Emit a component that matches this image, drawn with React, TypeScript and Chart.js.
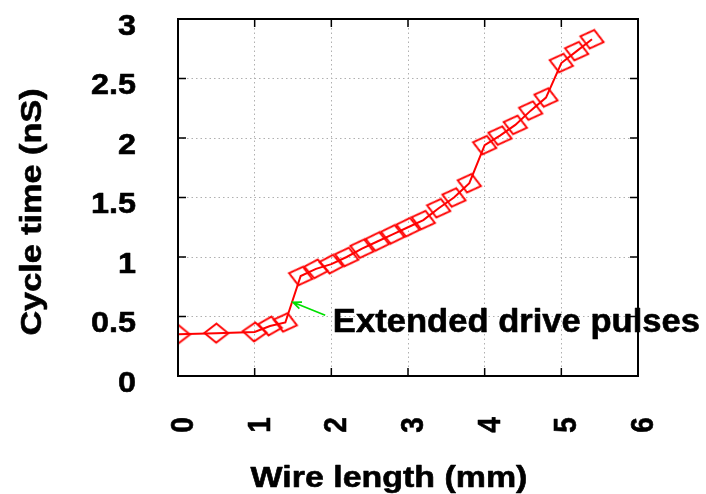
import React, { useEffect, useRef } from 'react';
import { Chart, registerables } from 'chart.js';

Chart.register(...registerables);

// ---- data ----
const wireLength = [0, 0.5, 1.0, 1.2, 1.4, 1.6, 1.8, 2.0, 2.2, 2.4, 2.6, 2.8, 3.0, 3.2, 3.4, 3.6, 3.8, 4.0, 4.2, 4.4, 4.6, 4.8, 5.0, 5.2, 5.4];
const cycleTime = [0.35, 0.36, 0.37, 0.42, 0.45, 0.84, 0.9, 0.94, 1.0, 1.07, 1.13, 1.19, 1.25, 1.31, 1.41, 1.5, 1.62, 1.94, 2.02, 2.11, 2.23, 2.34, 2.63, 2.73, 2.83];

const xTicks = [0, 1, 2, 3, 4, 5, 6];
const xTickLabels = ['0', '1', '2', '3', '4', '5', '6'];
const yTicks = [0, 0.5, 1, 1.5, 2, 2.5, 3];
const yTickLabels = ['0', '0.5', '1', '1.5', '2', '2.5', '3'];

const xTitle = 'Wire length (mm)';
const yTitle = 'Cycle time (nS)';

const annotationText = 'Extended drive pulses';
const annotationTextPos = [2.02, 0.37];
const arrowTail = [1.92, 0.51];
const arrowTip = [1.5, 0.62];

const FONT = '"Liberation Sans", Arial, Helvetica, sans-serif';

function drawText(
  ctx: CanvasRenderingContext2D,
  text: string,
  x: number,
  y: number,
  font: string,
  rot: number,
  sx: number,
  align: CanvasTextAlign,
  baseline: CanvasTextBaseline
) {
  ctx.save();
  ctx.translate(x, y);
  ctx.rotate(rot);
  ctx.scale(sx, 1);
  ctx.font = font;
  ctx.fillStyle = '#000';
  ctx.strokeStyle = '#000';
  ctx.lineWidth = 0.6;
  ctx.lineJoin = 'round';
  ctx.textAlign = align;
  ctx.textBaseline = baseline;
  ctx.fillText(text, 0, 0);
  ctx.strokeText(text, 0, 0);
  ctx.restore();
}

const decorPlugin = {
  id: 'decor',
  afterDraw(chart: any) {
    const ctx: CanvasRenderingContext2D = chart.ctx;
    const xs = chart.scales.x;
    const ys = chart.scales.y;
    const { left, right, top, bottom } = chart.chartArea;

    // frame
    ctx.save();
    ctx.strokeStyle = '#000';
    ctx.lineWidth = 2;
    ctx.strokeRect(left, top, right - left, bottom - top);
    // inward tick marks on all sides
    ctx.lineWidth = 1.5;
    const tl = 8;
    ctx.beginPath();
    xTicks.forEach((v) => {
      const px = xs.getPixelForValue(v);
      ctx.moveTo(px, bottom);
      ctx.lineTo(px, bottom - tl);
      ctx.moveTo(px, top);
      ctx.lineTo(px, top + tl);
    });
    yTicks.forEach((v) => {
      const py = ys.getPixelForValue(v);
      ctx.moveTo(left, py);
      ctx.lineTo(left + tl, py);
      ctx.moveTo(right, py);
      ctx.lineTo(right - tl, py);
    });
    ctx.stroke();
    ctx.restore();

    // y tick labels
    yTicks.forEach((v, i) => {
      const py = ys.getPixelForValue(v);
      drawText(ctx, yTickLabels[i], left - 42, py + 15.5, `bold 30px ${FONT}`, 0, 1.08, 'right', 'alphabetic');
    });
    // x tick labels (rotated)
    xTicks.forEach((v, i) => {
      const px = xs.getPixelForValue(v);
      drawText(ctx, xTickLabels[i], px + 15, bottom + 49, `bold 31px ${FONT}`, -Math.PI / 2, 0.9, 'center', 'alphabetic');
    });

    // axis titles
    drawText(ctx, yTitle, 41, 212, `bold 29px ${FONT}`, -Math.PI / 2, 1.18, 'center', 'alphabetic');
    drawText(ctx, xTitle, 389, 487, `bold 29px ${FONT}`, 0, 1.17, 'center', 'alphabetic');

    // annotation
    const ax = xs.getPixelForValue(annotationTextPos[0]);
    const ay = ys.getPixelForValue(annotationTextPos[1]);
    drawText(ctx, annotationText, ax, ay, `bold 33px ${FONT}`, 0, 1.048, 'left', 'alphabetic');

    const tx = xs.getPixelForValue(arrowTail[0]);
    const ty = ys.getPixelForValue(arrowTail[1]);
    const hx = xs.getPixelForValue(arrowTip[0]);
    const hy = ys.getPixelForValue(arrowTip[1]);
    const ang = Math.atan2(hy - ty, hx - tx);
    ctx.save();
    ctx.strokeStyle = '#00e000';
    ctx.lineWidth = 1.7;
    ctx.beginPath();
    ctx.moveTo(tx, ty);
    ctx.lineTo(hx, hy);
    const hl = 9;
    const ha = 0.4;
    ctx.moveTo(hx - hl * Math.cos(ang - ha), hy - hl * Math.sin(ang - ha));
    ctx.lineTo(hx, hy);
    ctx.lineTo(hx - hl * Math.cos(ang + ha), hy - hl * Math.sin(ang + ha));
    ctx.stroke();
    ctx.restore();
  },
};

function makeMarker(): HTMLCanvasElement {
  const c = document.createElement('canvas');
  const w = 27;
  const h = 22;
  c.width = w;
  c.height = h;
  const g = c.getContext('2d')!;
  g.strokeStyle = '#ff0000';
  g.lineWidth = 2;
  g.beginPath();
  g.moveTo(w / 2, 1.5);
  g.lineTo(w - 1.5, h / 2);
  g.lineTo(w / 2, h - 1.5);
  g.lineTo(1.5, h / 2);
  g.closePath();
  g.stroke();
  return c;
}

export default function App() {
  const ref = useRef<HTMLCanvasElement>(null);

  useEffect(() => {
    if (!ref.current) return;
    const marker = makeMarker();
    const chart = new Chart(ref.current, {
      type: 'line',
      data: {
        datasets: [
          {
            data: wireLength.map((x, i) => ({ x, y: cycleTime[i] })),
            borderColor: '#ff0000',
            borderWidth: 2,
            backgroundColor: 'transparent',
            pointStyle: marker as any,
            pointRotation: (c: any) => {
              const i = c.dataIndex;
              const chartRef = c.chart;
              const xs = chartRef.scales.x;
              const ys = chartRef.scales.y;
              if (!xs || !ys) return 0;
              const a = Math.max(0, i - 1);
              const b = Math.min(wireLength.length - 1, i + 1);
              const dx = xs.getPixelForValue(wireLength[b]) - xs.getPixelForValue(wireLength[a]);
              const dy = ys.getPixelForValue(cycleTime[a]) - ys.getPixelForValue(cycleTime[b]);
              const deg = (Math.atan2(dy, dx) * 180) / Math.PI;
              return Math.min(deg * 0.5, 14);
            },
            tension: 0,
          },
        ],
      },
      options: {
        animation: false,
        responsive: false,
        maintainAspectRatio: false,
        events: [],
        layout: { padding: { left: 178, right: 68, top: 19, bottom: 118 } },
        plugins: { legend: { display: false }, tooltip: { enabled: false }, title: { display: false } },
        scales: {
          x: {
            type: 'linear',
            min: 0,
            max: 6,
            ticks: { display: false, stepSize: 1 },
            grid: { color: '#b0b0b0', lineWidth: 1, drawTicks: false },
            border: { display: false, dash: [1.5, 3] },
          },
          y: {
            type: 'linear',
            min: 0,
            max: 3,
            ticks: { display: false, stepSize: 0.5 },
            grid: { color: '#b0b0b0', lineWidth: 1, drawTicks: false },
            border: { display: false, dash: [1.5, 3] },
          },
        },
      },
      plugins: [decorPlugin],
    });
    return () => chart.destroy();
  }, []);

  return (
    <div style={{ position: 'fixed', left: 0, top: 0, width: 706, height: 494, background: '#fff' }}>
      <canvas ref={ref} width={706} height={494} style={{ width: 706, height: 494 }} />
    </div>
  );
}
